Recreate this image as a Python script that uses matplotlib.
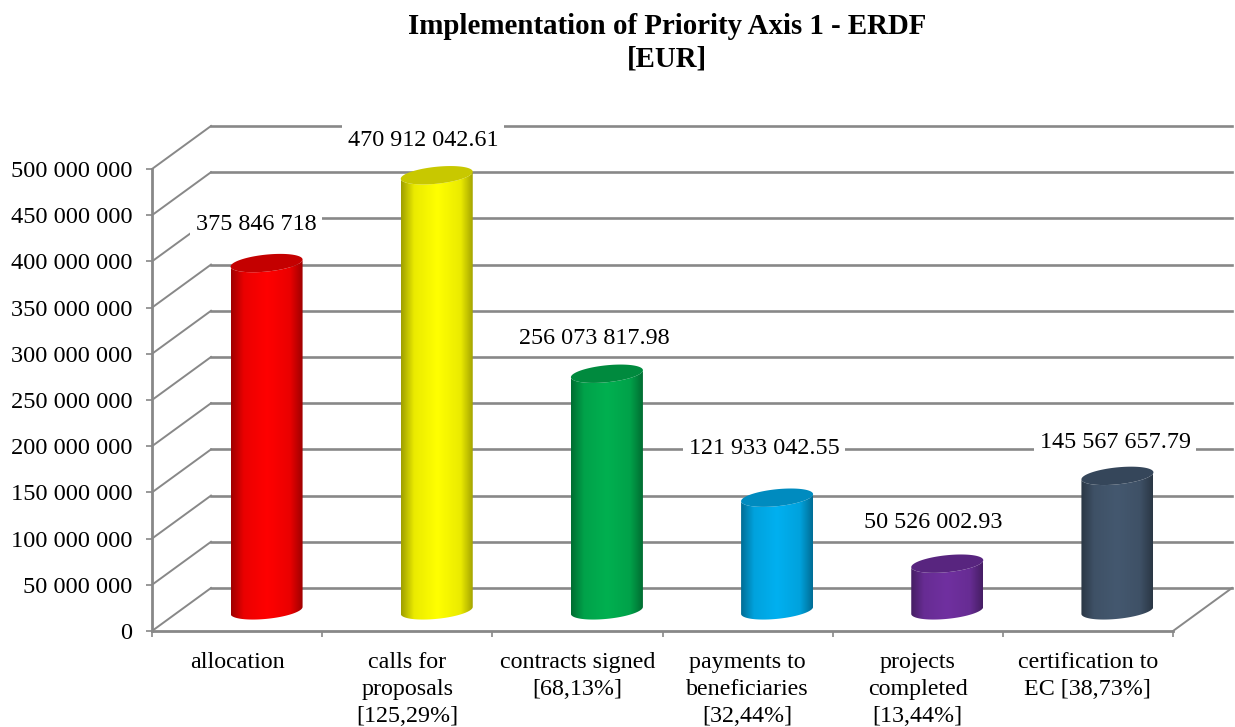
import numpy as np
import matplotlib
matplotlib.use("Agg")
import matplotlib.pyplot as plt
from matplotlib.patches import Polygon
from matplotlib.colors import LinearSegmentedColormap

plt.rcParams['font.family'] = ['Liberation Serif', 'DejaVu Serif']

categories = ["allocation", "calls for\nproposals\n[125,29%]", "contracts signed\n[68,13%]",
              "payments to\nbeneficiaries\n[32,44%]", "projects\ncompleted\n[13,44%]",
              "certification to\nEC [38,73%]"]
values = [375846718, 470912042.61, 256073817.98, 121933042.55, 50526002.93, 145567657.79]
value_labels = ["375 846 718", "470 912 042.61", "256 073 817.98",
                "121 933 042.55", "50 526 002.93", "145 567 657.79"]
y_ticks = list(range(0, 500000001, 50000000))
y_tick_labels = ["0", "50 000 000", "100 000 000", "150 000 000", "200 000 000", "250 000 000",
                 "300 000 000", "350 000 000", "400 000 000", "450 000 000", "500 000 000"]
side_colors = ["#ff0000", "#ffff00", "#00b050", "#00b0f0", "#7030a0", "#44586f"]
top_colors = ["#c40000", "#c8c800", "#008a3e", "#008bbf", "#58257f", "#35465a"]
label_px = [(256, 224), (423, 140), (594, 339), (764, 449), (933, 522), (1115, 443)]

W, H = 1235, 727
L, R, B, T = 152, 1173, 631, 169
DX, DY = 59, 43
GRID = "#888888"

fig = plt.figure(figsize=(W / 100, H / 100), dpi=100)
ax = fig.add_axes([L / W, 1 - B / H, (R - L) / W, (B - T) / H])
ax.set_xlim(0, 6)
ax.set_ylim(0, 500000000)
ax.patch.set_visible(False)
ux = (R - L) / 6          # pixels per category
uy = (B - T) / 5e8        # pixels per value unit
ddx, ddy = DX / ux, DY / uy

# 3-D frame: side wall diagonals + back wall lines
for v in y_ticks:
    if v == 0:
        ax.plot([6, 6 + ddx], [0, ddy], color=GRID, lw=1.4, clip_on=False, zorder=1)
    ax.plot([0, ddx], [v, v + ddy], color=GRID, lw=1.4, clip_on=False, zorder=1)
    ax.plot([ddx, 6 + ddx], [v + ddy, v + ddy], color=GRID, lw=1.9, clip_on=False, zorder=1)

for s in ('top', 'right'):
    ax.spines[s].set_visible(False)
for s in ('left', 'bottom'):
    ax.spines[s].set_color(GRID)
    ax.spines[s].set_linewidth(2.0)
    ax.spines[s].set_zorder(2)
ax.set_yticks(y_ticks)
ax.set_yticklabels(y_tick_labels, fontsize=17.6)
ax.set_xticks(range(7))
ax.set_xticklabels([])
ax.set_xticks(np.arange(6) + 0.5, minor=True)
ax.set_xticklabels(categories, minor=True, fontsize=17.3, linespacing=1.37, va='top')
ax.tick_params(axis='both', which='major', color=GRID, width=1.2, length=4)
ax.tick_params(axis='y', pad=10)
ax.tick_params(axis='x', which='minor', length=0, pad=15)

# cylinders
a_px, b_px, k_px = 36, 8.5, 3.5
a = a_px / ux
t = np.linspace(0, 2 * np.pi, 200)


def ellipse(cx, cy):
    return (cx + a * np.cos(t),
            cy + (b_px * np.sin(t) + k_px * np.cos(t)) / uy)


def shade(color, f):
    rgb = np.array(matplotlib.colors.to_rgb(color))
    return tuple(rgb * f)


for i, (v, sc, tc) in enumerate(zip(values, side_colors, top_colors)):
    cx = i + 0.5 + 0.5 * ddx
    cy0 = 0.48 * ddy
    cy1 = cy0 + v
    # body outline: lower half of the base ellipse and the upper half of the top
    ex0, ey0 = ellipse(cx, cy0)
    ex1, ey1 = ellipse(cx, cy1)
    low = np.sin(t) < 0
    o0 = np.argsort(ex0[low])
    o1 = np.argsort(ex1[low])[::-1]
    px = np.concatenate([ex0[low][o0], ex1[low][o1]])
    py = np.concatenate([ey0[low][o0], ey1[low][o1]])
    body = Polygon(np.column_stack([px, py]), closed=True, transform=ax.transData,
                   fc='none', ec='none')
    ax.add_patch(body)
    cmap = LinearSegmentedColormap.from_list("c", [
        (0.0, shade(sc, 0.62)), (0.18, shade(sc, 0.92)), (0.5, shade(sc, 1.0)),
        (0.82, shade(sc, 0.92)), (1.0, shade(sc, 0.62))])
    im = ax.imshow(np.linspace(0, 1, 256).reshape(1, -1), cmap=cmap, aspect='auto',
                   extent=[cx - a, cx + a, py.min(), py.max()], zorder=3,
                   interpolation='bilinear')
    im.set_clip_path(body)
    ax.fill(ex1, ey1, color=tc, zorder=4, clip_on=False, lw=0)

ax.set_xlim(0, 6)
ax.set_ylim(0, 500000000)

for (x, y), s in zip(label_px, value_labels):
    fig.text(x / W, 1 - y / H, s, ha='center', va='center', fontsize=17.4, color='black',
             bbox=dict(fc='white', ec='none', pad=4.0))

fig.text(667 / W, 1 - 27 / H, "Implementation of Priority Axis 1 - ERDF", ha='center', va='center',
         fontsize=20.8, fontweight='bold')
fig.text(667 / W, 1 - 59 / H, "[EUR]", ha='center', va='center', fontsize=20.8, fontweight='bold')

fig.savefig("out.png", dpi=100)
